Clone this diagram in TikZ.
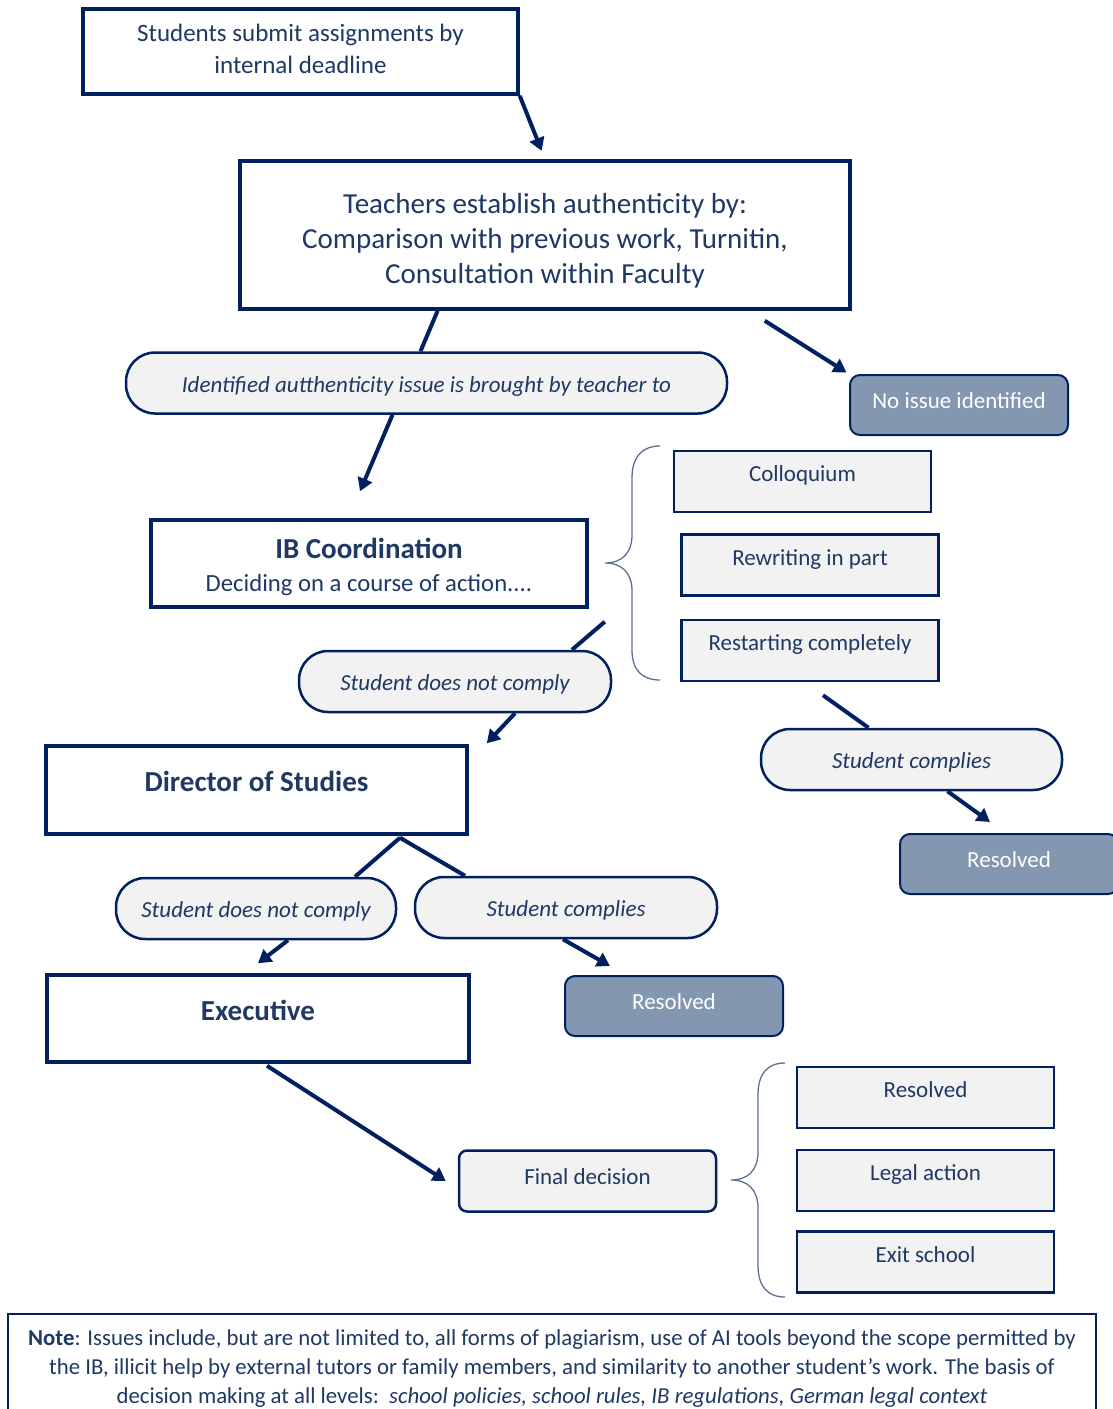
\documentclass[tikz,border=0pt]{standalone}
\usepackage{fontspec}
\setmainfont{Carlito}
\usetikzlibrary{arrows.meta,calc,backgrounds}
\definecolor{navy}{HTML}{002060}
\definecolor{navytext}{HTML}{1F3864}
\definecolor{slate}{HTML}{8497B0}
\definecolor{lightg}{HTML}{F2F2F2}
\definecolor{bracec}{RGB}{90,110,150}
\begin{document}
\begin{tikzpicture}[x=1pt,y=-1pt,
 every node/.style={inner sep=0pt, text=navytext, align=center},
 thickbox/.style={draw=navy, line width=3.5pt, fill=white},
 bigbold/.style={font=\fontsize{29}{33}\selectfont\bfseries},
 lightbox/.style={draw=navy, line width=2.5pt, fill=lightg, font=\fontsize{23}{27}\selectfont, minimum width=257pt, minimum height=61pt, text height=14pt, text depth=14pt},
 pill/.style={draw=navy, line width=2.5pt, fill=lightg, rounded corners=29pt, minimum height=61pt, font=\fontsize{23}{27}\selectfont\itshape, text height=19pt, text depth=1pt},
 slatebox/.style={draw=navy, line width=2pt, fill=slate, rounded corners=10pt, minimum width=218pt, minimum height=60pt, text=white, font=\fontsize{23}{27}\selectfont, text height=14pt, text depth=7pt},
 conn/.style={draw=navy, line width=4pt},
 arr/.style={conn, -{Triangle[length=13pt,width=15pt]}},
 bracel/.style={draw=bracec, line width=1.3pt}
]
\useasboundingbox (0,0) rectangle (1112,1409);

% nodes
\node[thickbox, minimum width=435pt, minimum height=85pt, font=\fontsize{25}{32}\selectfont] (submit) at (300.5,51.5) {Students submit assignments by\\internal deadline\rule[-5pt]{0pt}{5pt}};
\node[thickbox, minimum width=610pt, minimum height=148pt, font=\fontsize{29}{35}\selectfont] (teach) at (545,235) {\rule{0pt}{31pt}Teachers establish authenticity by:\\Comparison with previous work, Turnitin,\\Consultation within Faculty};
\node[pill, minimum width=601pt] (issue) at (426.5,383) {Identified autthenticity issue is brought by teacher to};
\node[slatebox] (noissue) at (959,405) {No issue identified};
\node[thickbox, minimum width=436pt, minimum height=87pt, font=\fontsize{24.7}{33}\selectfont] (ib) at (369,563.5) {\rule{0pt}{28pt}{\fontsize{29}{33}\selectfont\bfseries IB Coordination}\\Deciding on a course of action....};
\node[lightbox] (coll) at (802.5,481.5) {Colloquium};
\node[lightbox] (rewrite) at (810,565) {Rewriting in part};
\node[lightbox] (restart) at (810,650.5) {Restarting completely};
\node[pill, minimum width=312pt] (nc1) at (455,681.5) {Student does not comply};
\node[thickbox, bigbold, minimum width=421pt, minimum height=88pt, text height=17pt, text depth=14pt] (dos) at (256.5,790) {Director of Studies};
\node[pill, minimum width=301pt] (c1) at (911.5,759.5) {Student complies};
\node[slatebox] (res1) at (1009,864) {Resolved};
\node[pill, minimum width=280pt] (nc2) at (256,908.5) {Student does not comply};
\node[pill, minimum width=302pt] (c2) at (566,907.5) {Student complies};
\node[thickbox, bigbold, minimum width=422pt, minimum height=87pt, text height=17pt, text depth=13pt] (exec) at (258,1018.5) {Executive};
\node[slatebox] (res2) at (674,1006) {Resolved};
\node[lightbox, rounded corners=8pt, text depth=7pt] (final) at (587.5,1181) {Final decision};
\node[lightbox] (fres) at (925.5,1097.5) {Resolved};
\node[lightbox] (legal) at (925.5,1180.5) {Legal action};
\node[lightbox] (exit) at (925.5,1262) {Exit school};
\node[draw=navy, line width=2pt, fill=white, minimum width=1088pt, minimum height=110pt, anchor=north, font=\fontsize{22.8}{29}\selectfont] (note) at (552,1313) {\textbf{Note}: Issues include, but are not limited to, all forms of plagiarism, use of AI tools beyond the scope permitted by\\the IB, illicit help by external tutors or family members, and similarity to another student’s work. The basis of\\decision making at all levels:\ \ \textit{school policies, school rules, IB regulations, German legal context}};

% braces
\draw[bracel] (660,446) .. controls (643,446) and (632,456) .. (632,478) -- (632,535) .. controls (632,553) and (622,563) .. (605,563) .. controls (622,563) and (632,573) .. (632,591) -- (632,650) .. controls (632,671) and (643,680) .. (660,680);
\draw[bracel] (785,1063) .. controls (768,1063) and (758,1073) .. (758,1095) -- (758,1152) .. controls (758,1170) and (748,1180) .. (731,1180) .. controls (748,1180) and (758,1190) .. (758,1208) -- (758,1265) .. controls (758,1287) and (768,1297) .. (785,1297);

% connectors
\begin{scope}[on background layer]
\draw[arr, shorten >=9pt] (submit.south east) -- (teach.north);
\draw[conn] ($(teach.south west)!0.325!(teach.south east)$) -- ($(issue.north)+(-6,0)$);
\draw[arr] ($(issue.south)+(-34,0)$) -- ($(ib.north)+(-9,-27)$);
\draw[arr, shorten >=3pt] ($(teach.south east)+(-87,10)$) -- (noissue.north west);
\draw[conn] ($(ib.south east)+(16,13)$) -- ($(nc1.north)+(117,0)$);
\draw[arr] ($(nc1.south)+(60,0)$) -- ($(dos.north east)+(18,-1)$);
\draw[conn] ($(restart.south)+(13,13)$) -- ($(c1.north)+(-43,0)$);
\draw[arr] ($(c1.south)+(36,0)$) -- ($(res1.north)+(-19,-11)$);
\coordinate (split) at ($(dos.south)+(143.5,2)$);
\draw[conn] (split) -- ($(nc2.north)+(99,0)$);
\draw[conn] (split) -- ($(c2.north)+(-101,0)$);
\draw[arr] ($(nc2.south)+(32,0)$) -- ($(exec.north)+(0,-10)$);
\draw[arr] ($(c2.south)+(-3,0)$) -- ($(res2.north)+(-64,-9)$);
\draw[arr] ($(exec.south)+(9,2)$) -- ($(final.west)+(-12,0)$);
\end{scope}
\end{tikzpicture}
\end{document}
